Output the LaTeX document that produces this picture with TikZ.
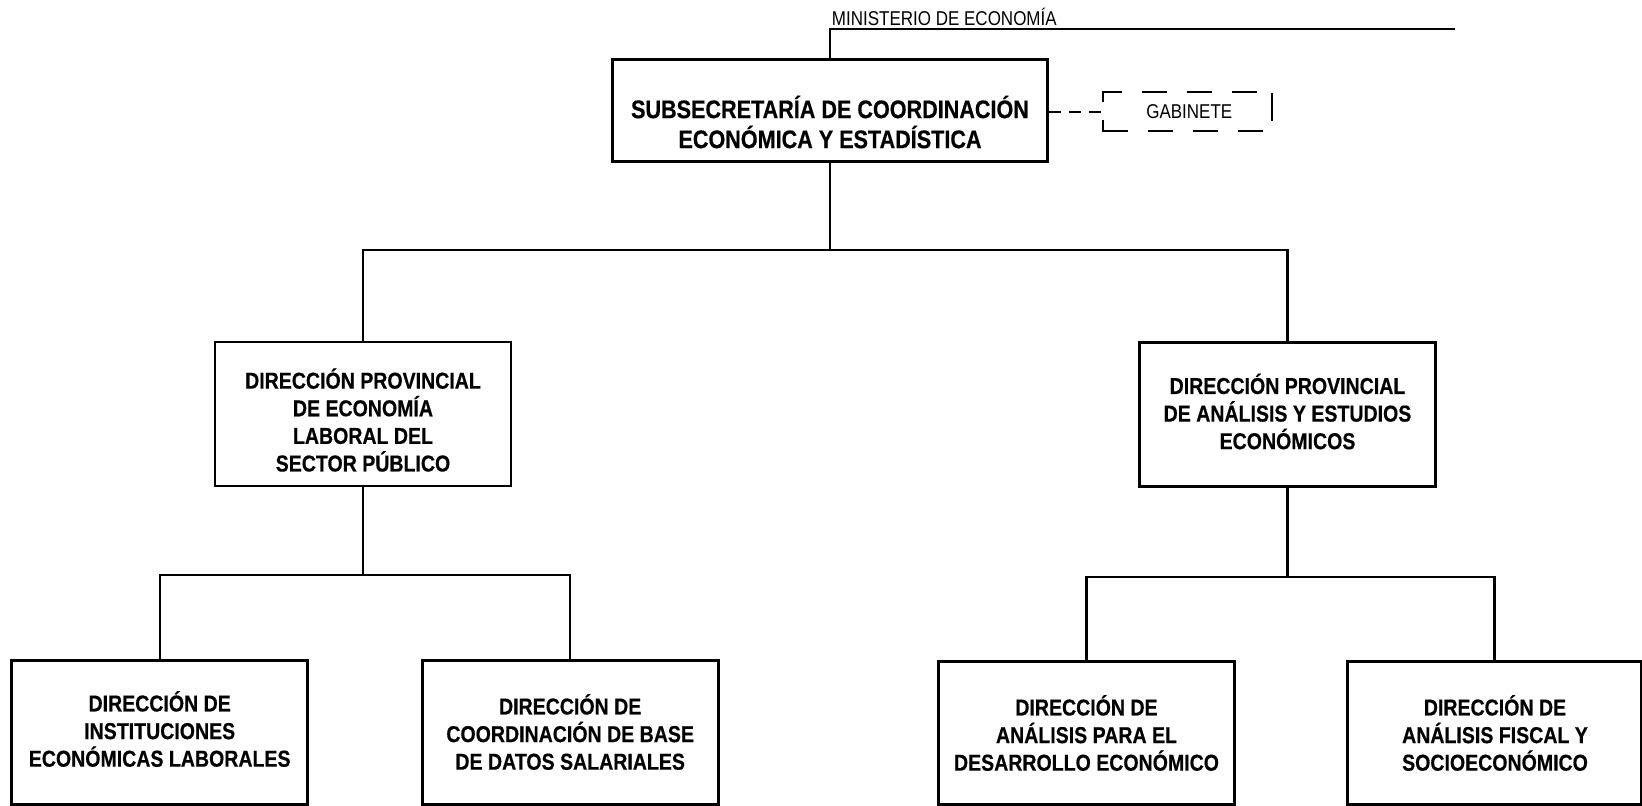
\documentclass[tikz,border=0pt]{standalone}
\usepackage{fontspec}
\setmainfont{Liberation Sans}[FakeStretch=0.85, BoldFeatures={FakeBold=0.5}]
\begin{document}
\begin{tikzpicture}[x=0.5pt,y=-0.5pt,
  box/.style={draw, line width=1.35pt, minimum width=148pt, minimum height=72pt, inner sep=0pt},
  topbox/.style={box, minimum width=217.5pt, minimum height=51.2pt},
  boxtxt/.style={align=center, inner sep=0pt, font=\bfseries\fontsize{11.5}{13.8}\selectfont},
  toptxt/.style={align=center, inner sep=0pt, font=\bfseries\fontsize{12.7}{15}\selectfont},
  smalltxt/.style={inner sep=0pt, font=\fontsize{10}{12}\selectfont},
  conn/.style={line width=1.15pt},
  gabconn/.style={conn, dash pattern=on 6pt off 4pt},
  gabtop/.style={conn, dash pattern=on 14.35pt off 10pt on 12.5pt off 10pt on 12.5pt off 10pt on 12.5pt off 4.65pt, dash phase=81.85pt},
  gabbot/.style={conn, dash pattern=on 17.85pt off 10pt on 12.5pt off 10pt on 12.5pt off 10pt on 12.5pt off 4.65pt, dash phase=85.35pt}
]
\useasboundingbox (0,0) rectangle (1642,806);

% top level
\node[topbox] (sub) at (830,110.5) {};
\node[toptxt] (subt) at (830,122) {SUBSECRETARÍA DE COORDINACIÓN\\ECONÓMICA Y ESTADÍSTICA};

% ministerio
\node[smalltxt, anchor=base west] (min) at (831.5,26) {MINISTERIO DE ECONOMÍA};
\coordinate (mend) at (1455,29.3);
\draw[conn] (sub.north) -- (sub.north |- mend) -- (mend);

% gabinete
\node[smalltxt] (gab) at (1189.3,112) {GABINETE};
\coordinate (gabL) at (1103,111);
\coordinate (gabTR) at (1257,91.7);
\coordinate (gabBR) at (1263,130.7);
\coordinate (barT) at (1272,93);
\coordinate (barB) at (1272,120.7);
\draw[gabconn] (sub.east |- gab.center) -- (gabL |- gab.center);
\draw[gabtop] (gabL) -- (gabL |- gabTR) -- (gabTR);
\draw[gabbot] (gabL) -- (gabL |- gabBR) -- (gabBR);
\draw[conn] (barT) -- (barB);

% second level
\node[box] (dl) at (363,414) {};
\node[boxtxt] (dlt) at (363,420) {DIRECCIÓN PROVINCIAL\\DE ECONOMÍA\\LABORAL DEL\\SECTOR PÚBLICO};
\node[box] (dr) at (1287.5,414.2) {};
\node[boxtxt] (drt) at (1287.5,411.5) {DIRECCIÓN PROVINCIAL\\DE ANÁLISIS Y ESTUDIOS\\ECONÓMICOS};

\coordinate (b1) at (830,250.3);
\draw[conn] (sub.south) -- (b1);
\draw[conn] (dl.north) |- (b1) -| (dr.north);

% third level
\node[box, minimum height=71.75pt] (l1) at (159.7,732.5) {};
\node[boxtxt] (l1t) at (159.7,729) {DIRECCIÓN DE\\INSTITUCIONES\\ECONÓMICAS LABORALES};
\node[box, minimum height=71.75pt] (l2) at (570.2,732.5) {};
\node[boxtxt] (l2t) at (570.2,732) {DIRECCIÓN DE\\COORDINACIÓN DE BASE\\DE DATOS SALARIALES};
\node[box, minimum height=71.25pt] (r1) at (1086.5,733) {};
\node[boxtxt] (r1t) at (1086.5,733) {DIRECCIÓN DE\\ANÁLISIS PARA EL\\DESARROLLO ECONÓMICO};
\node[box, minimum height=71.25pt, minimum width=146.6pt] (r2) at (1494.4,733) {};
\node[boxtxt] (r2t) at (1495,733) {DIRECCIÓN DE\\ANÁLISIS FISCAL Y\\SOCIOECONÓMICO};

\coordinate (b2) at (363,575);
\draw[conn] (dl.south) -- (b2);
\draw[conn] (l1.north) |- (b2) -| (l2.north);

\coordinate (b3) at (1287.5,577);
\draw[conn] (dr.south) -- (b3);
\draw[conn] (r1.north) |- (b3) -| (r2.north);
\end{tikzpicture}
\end{document}
